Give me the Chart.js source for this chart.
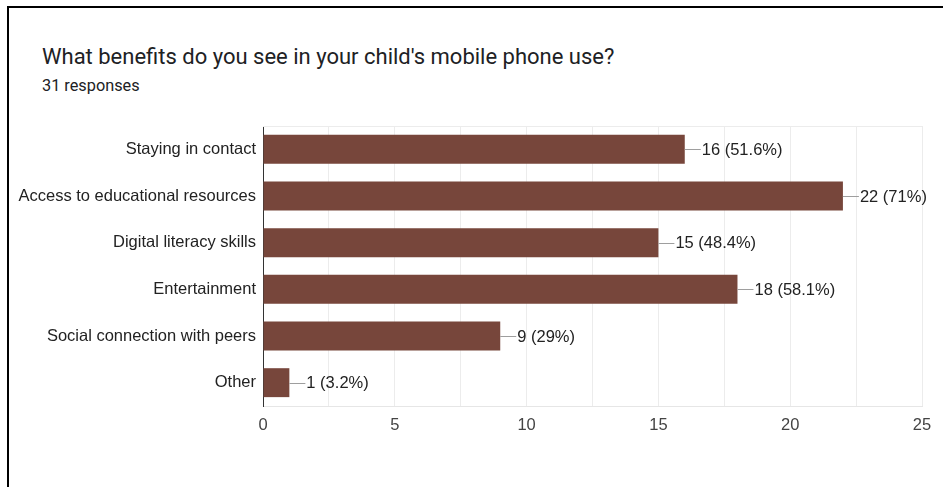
<!DOCTYPE html>
<html>
<head>
<meta charset="utf-8">
<script src="https://cdn.jsdelivr.net/npm/chart.js@4/dist/chart.umd.min.js"></script>
<style>
  html, body { margin: 0; padding: 0; background: #fff; }
  #wrap { position: relative; width: 943px; height: 487px; overflow: hidden; }
  #frame { position: absolute; left: 7px; top: 6px; right: -10px; bottom: -10px;
           border-top: 2px solid #000; border-left: 2px solid #000; }
  #title { position: absolute; left: 42px; top: 42px; font-family: Roboto, sans-serif;
           font-size: 22px; color: #202124; white-space: nowrap; line-height: 30px; }
  #sub { position: absolute; left: 42px; top: 75px; font-family: Roboto, sans-serif;
         font-size: 16.3px; color: #202124; white-space: nowrap; line-height: 22px; }
  canvas { position: absolute; left: 0; top: 0; }
</style>
</head>
<body>
<div id="wrap">
  <div id="frame"></div>
  <div id="title">What benefits do you see in your child's mobile phone use?</div>
  <div id="sub">31 responses</div>
  <canvas id="c" width="943" height="487"></canvas>
</div>
<script>
const categories = [
  'Staying in contact',
  'Access to educational resources',
  'Digital literacy skills',
  'Entertainment',
  'Social connection with peers',
  'Other'
];
const counts = [16, 22, 15, 18, 9, 1];
const percents = ['51.6%', '71%', '48.4%', '58.1%', '29%', '3.2%'];
const xTicks = [0, 5, 10, 15, 20, 25];

const FONT = '"Liberation Sans", Arial, sans-serif';

// Value labels with a short leader line after each bar
const valueLabels = {
  id: 'valueLabels',
  afterDatasetsDraw(chart) {
    const ctx = chart.ctx;
    const meta = chart.getDatasetMeta(0);
    ctx.save();
    meta.data.forEach((bar, i) => {
      const x = bar.x, y = Math.round(bar.y) + 0.5;
      ctx.strokeStyle = '#9e9e9e';
      ctx.lineWidth = 1;
      ctx.beginPath();
      ctx.moveTo(x, y);
      ctx.lineTo(x + 16, y);
      ctx.stroke();
      ctx.fillStyle = '#222';
      ctx.font = '16.5px ' + FONT;
      ctx.textBaseline = 'middle';
      ctx.textAlign = 'left';
      ctx.fillText(counts[i] + ' (' + percents[i] + ')', x + 17, bar.y + 1);
    });
    ctx.restore();
  }
};

// Light line along the top of the plot area
const topLine = {
  id: 'topLine',
  beforeDatasetsDraw(chart) {
    const { ctx, chartArea } = chart;
    ctx.save();
    ctx.strokeStyle = '#ececec';
    ctx.lineWidth = 1;
    ctx.beginPath();
    ctx.moveTo(chartArea.left, Math.round(chartArea.top) + 0.5);
    ctx.lineTo(chartArea.right, Math.round(chartArea.top) + 0.5);
    ctx.stroke();
    ctx.restore();
  }
};

new Chart(document.getElementById('c'), {
  type: 'bar',
  data: {
    labels: categories,
    datasets: [{
      data: counts,
      backgroundColor: '#77463b',
      borderWidth: 0,
      barPercentage: 0.62,
      categoryPercentage: 1
    }]
  },
  options: {
    indexAxis: 'y',
    responsive: false,
    animation: false,
    layout: { padding: { top: 126, right: 21, bottom: 0, left: 0 } },
    plugins: { legend: { display: false }, tooltip: { enabled: false } },
    scales: {
      x: {
        min: 0, max: 25,
        afterFit(scale) { scale.height = 81; },
        afterBuildTicks(scale) {
          const t = [];
          xTicks.forEach((v, i) => {
            t.push({ value: v });
            if (i < xTicks.length - 1) t.push({ value: (v + xTicks[i + 1]) / 2 });
          });
          scale.ticks = t;
        },
        ticks: {
          autoSkip: false,
          maxRotation: 0,
          color: '#444',
          font: { family: FONT, size: 16.5 },
          padding: 10,
          callback(v) { return xTicks.includes(v) ? String(v) : ''; }
        },
        grid: { color: '#ececec', drawTicks: false },
        border: { color: '#e6e6e6' }
      },
      y: {
        afterFit(scale) { scale.width = 263; },
        ticks: {
          color: '#222',
          font: { family: FONT, size: 16.5 },
          padding: 7
        },
        grid: { display: false, drawTicks: false },
        border: { color: '#333', width: 1 }
      }
    }
  },
  plugins: [topLine, valueLabels]
});
</script>
</body>
</html>
